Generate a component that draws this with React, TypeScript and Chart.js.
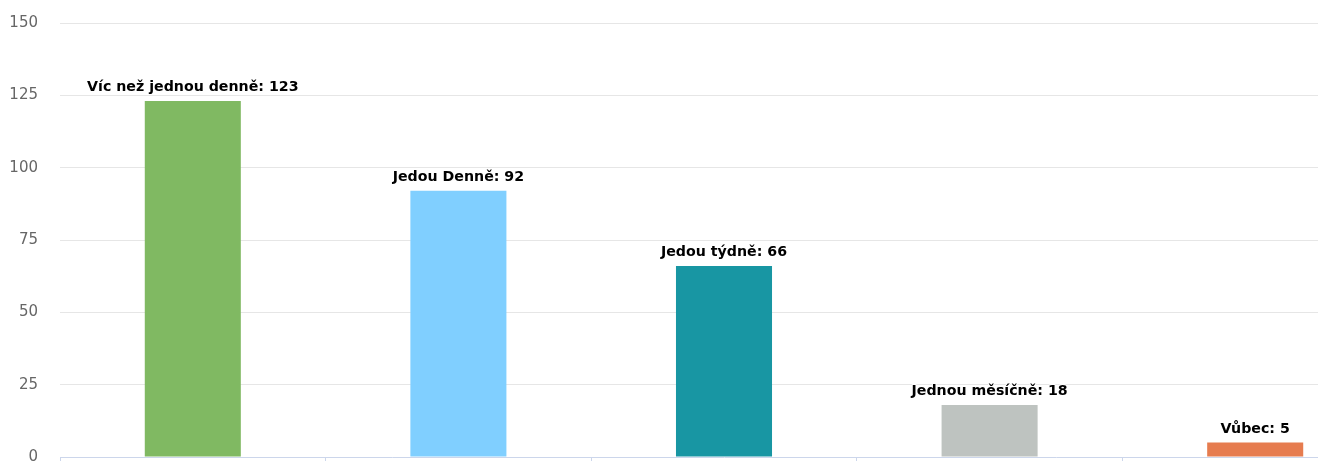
import React, { useEffect, useRef } from "react";
import { Chart, registerables } from "chart.js";

Chart.register(...registerables);

const categories: string[] = [
  "Víc než jednou denně",
  "Jedou Denně",
  "Jedou týdně",
  "Jednou měsíčně",
  "Vůbec",
];
const values: number[] = [123, 92, 66, 18, 5];
const barColors: string[] = ["#80b962", "#80cfff", "#1896a3", "#bec3c0", "#e67c4f"];
const yTicks: number[] = [0, 25, 50, 75, 100, 125, 150];

const dataLabelPlugin = {
  id: "dataLabels",
  afterDatasetsDraw(chart: any) {
    const ctx = chart.ctx;
    const meta = chart.getDatasetMeta(0);
    ctx.save();
    ctx.font = 'bold 14.2px "DejaVu Sans"';
    ctx.textAlign = "center";
    ctx.textBaseline = "alphabetic";
    ctx.lineJoin = "round";
    meta.data.forEach((el: any, i: number) => {
      const text = `${categories[i]}: ${values[i]}`;
      const x = el.x;
      const y = el.y - 10;
      ctx.lineWidth = 2;
      ctx.strokeStyle = "#ffffff";
      ctx.strokeText(text, x, y);
      ctx.fillStyle = "#000000";
      ctx.fillText(text, x, y);
    });
    ctx.restore();
  },
};

export default function App() {
  const ref = useRef<HTMLCanvasElement | null>(null);
  useEffect(() => {
    if (!ref.current) return;
    const chart = new Chart(ref.current, {
      type: "bar",
      data: {
        labels: categories,
        datasets: [
          {
            data: values,
            backgroundColor: barColors,
            borderWidth: 0,
            categoryPercentage: 1,
            barPercentage: 0.3616,
          },
        ],
      },
      options: {
        responsive: false,
        animation: false,
        devicePixelRatio: 1,
        layout: { padding: { top: 15, right: 0, bottom: 0, left: 0 } },
        plugins: {
          legend: { display: false },
          tooltip: { enabled: false },
          title: { display: false },
        },
        scales: {
          x: {
            type: "category",
            offset: true,
            grid: {
              display: true,
              offset: true,
              drawOnChartArea: false,
              drawTicks: true,
              tickLength: 10,
              color: "#ccd6eb",
              lineWidth: 1,
            },
            border: { display: true, color: "#ccd6eb", width: 1 },
            ticks: { display: false },
          },
          y: {
            min: 0,
            max: 150,
            afterBuildTicks: (scale: any) => {
              scale.ticks = yTicks.map((v) => ({ value: v }));
            },
            afterFit: (scale: any) => {
              scale.width = 60;
            },
            grid: {
              drawTicks: false,
              color: (c: any) => (c.tick && c.tick.value === 0 ? "rgba(0,0,0,0)" : "#e6e6e6"),
              lineWidth: 1,
            },
            border: { display: false },
            ticks: {
              padding: 22,
              color: "#666666",
              font: { family: '"DejaVu Sans"', size: 15 },
            },
          },
        },
      },
      plugins: [dataLabelPlugin],
    });
    return () => chart.destroy();
  }, []);

  return (
    <div
      style={{
        position: "fixed",
        left: 0,
        top: 0,
        width: 1318,
        height: 461,
        overflow: "hidden",
        background: "#ffffff",
      }}
    >
      <canvas
        ref={ref}
        width={1388}
        height={496}
        style={{ display: "block", position: "absolute", left: 0, top: -8 }}
      />
    </div>
  );
}
